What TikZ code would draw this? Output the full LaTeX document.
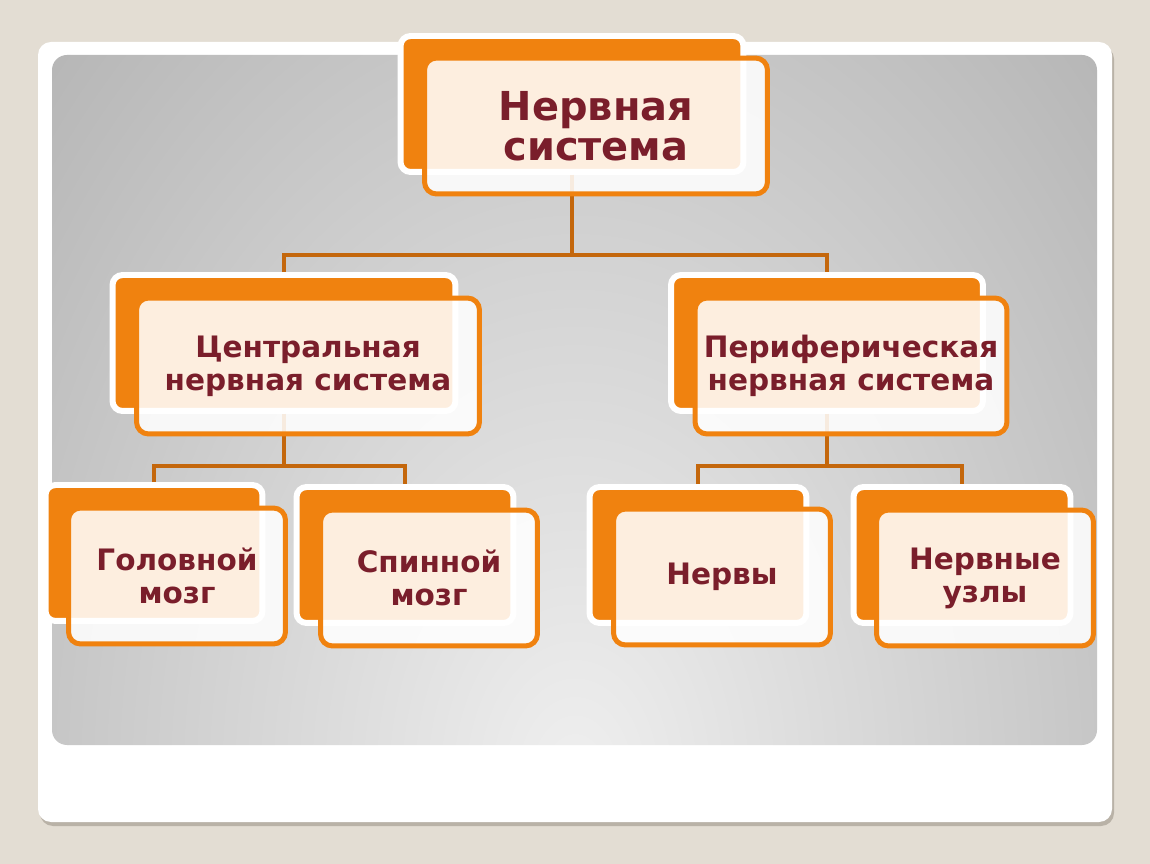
\documentclass[tikz,border=0pt]{standalone}
\usepackage{fontspec}
\setmainfont{DejaVu Sans}
\usepackage{xcolor}
\definecolor{pagebg}{HTML}{E3DDD3}
\definecolor{panelshadow}{HTML}{B9B2A7}
\definecolor{boxorange}{HTML}{F0820F}
\definecolor{linkbrown}{HTML}{C4670C}
\definecolor{textred}{HTML}{7A1E2B}
\definecolor{panellight}{HTML}{EFEFEF}
\definecolor{paneldark}{HTML}{9E9E9E}

\begin{document}
\begin{tikzpicture}[x=0.02cm,y=-0.02cm,
  backbox/.style={rectangle,rounded corners=0.2cm,fill=boxorange,draw=white,line width=3.4pt,minimum height=2.72cm},
  frontbox/.style={rectangle,rounded corners=0.24cm,fill=white,fill opacity=0.87,draw=boxorange,draw opacity=1,text opacity=1,
    line width=2.85pt,minimum height=2.72cm,text=textred,align=center,font=\bfseries\fontsize{16.8}{18.8}\selectfont},
  wide/.style={minimum width=6.86cm},
  midwide/.style={minimum width=6.24cm},
  narrow/.style={minimum width=4.34cm},
  bigtext/.style={font=\bfseries\fontsize{22.7}{22.6}\selectfont},
  link/.style={draw=linkbrown,line width=2.3pt}]
\useasboundingbox (0,0) rectangle (1150,864);
% slide
\fill[pagebg] (0,0) rectangle (1150,864);
\fill[panelshadow,rounded corners=0.26cm] (40,46) rectangle (1114,826);
\fill[white,rounded corners=0.26cm] (38,42) rectangle (1112,822);
\begin{scope}
  \clip[rounded corners=0.3cm] (52,55) rectangle (1097,745);
  \shade[inner color=panellight,outer color=paneldark] (575,780) ellipse (1040 and 1500);
\end{scope}
% back boxes
\node[backbox,wide] (nsb) at (572,104) {};
\node[backbox,wide] (cnsb) at (284,343) {};
\node[backbox,midwide] (pnsb) at (827,343) {};
\node[backbox,narrow] (brainb) at (154,553) {};
\node[backbox,narrow] (spineb) at (405,555) {};
\node[backbox,narrow] (nervesb) at (698,555) {};
\node[backbox,narrow] (gangliab) at (962,555) {};
% connectors
\coordinate (nsbar) at (572,255);
\coordinate (cnsbar) at (284,466);
\coordinate (pnsbar) at (827,466);
\draw[link] (nsb.south) -- (nsbar);
\draw[link] (cnsb.north) |- (nsbar) -| (pnsb.north);
\draw[link] (cnsb.south) -- (cnsbar);
\draw[link] (brainb.north) |- (cnsbar) -| (spineb.north);
\draw[link] (pnsb.south) -- (pnsbar);
\draw[link] (nervesb.north) |- (pnsbar) -| (gangliab.north);
% front boxes
\node[frontbox,wide,bigtext] (ns) at (596,126) {Нервная\\система};
\node[frontbox,wide] (cns) at (308,366) {Центральная\\нервная система};
\node[frontbox,midwide] (pns) at (851,366) {Периферическая\\нервная система};
\node[frontbox,narrow] (brain) at (177,576) {Головной\\мозг};
\node[frontbox,narrow] (spine) at (429,578) {Спинной\\мозг};
\node[frontbox,narrow] (nerves) at (722,577) {Нервы};
\node[frontbox,narrow] (ganglia) at (985,578) {Нервные\\узлы};
\end{tikzpicture}
\end{document}
